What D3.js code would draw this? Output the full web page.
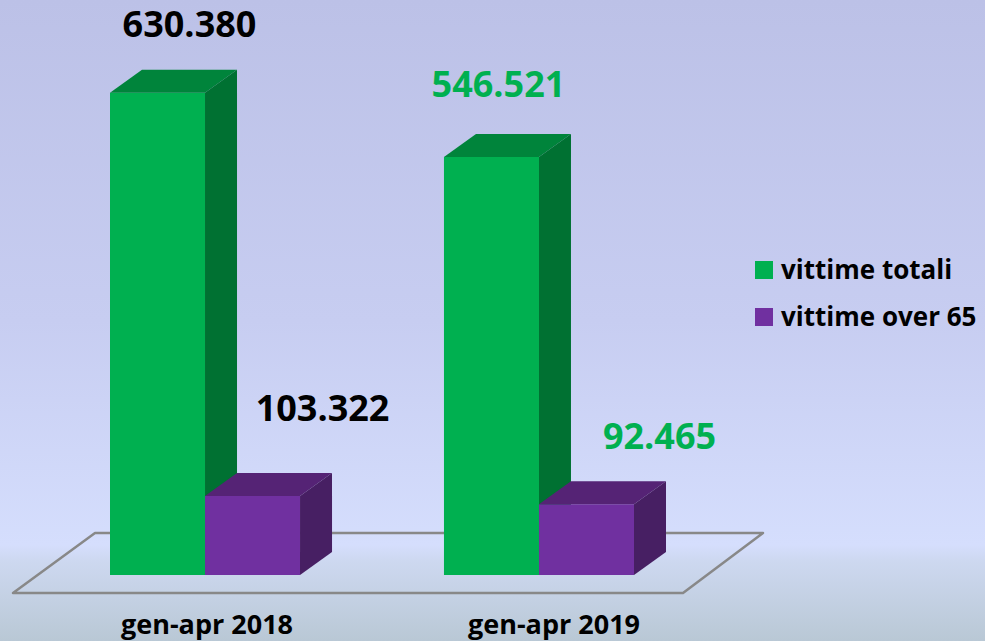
<!DOCTYPE html>
<html>
<head>
<meta charset="utf-8">
<script src="https://cdn.jsdelivr.net/npm/d3@7"></script>
<style>
  html, body { margin: 0; padding: 0; overflow: hidden; }
  text { font-family: "Open Sans", sans-serif; font-weight: bold; }
</style>
</head>
<body>
<svg id="chart" width="985" height="641"></svg>
<script>
// data
var categories = ["gen-apr 2018", "gen-apr 2019"];
var series = ["vittime totali", "vittime over 65"];
var totali = [630380, 546521];
var over65 = [103322, 92465];
var valueLabels = [["630.380", "103.322"], ["546.521", "92.465"]];
var labelColors = [["#000000", "#000000"], ["#00b050", "#00b050"]];

// style bits
var faceColors = {
    "vittime totali": { front: "#00b050", top: "#00843b", side: "#007132" },
    "vittime over 65": { front: "#7030a0", top: "#552375", side: "#471f63" }
};
var labelDx = [[32, 70], [7, 73]];
var labelDy = [[-33, -52], [-37, -32]];
var catDx = [2, 15];
var depthX = 32, depthY = -23;

var svg = d3.select("svg"),
    width = 985,
    height = 641;

// background
var defs = svg.append("defs");
var grad = defs.append("linearGradient")
    .attr("id", "bg")
    .attr("x1", 0).attr("y1", 0).attr("x2", 0).attr("y2", 1);
grad.append("stop").attr("offset", 0).attr("stop-color", "#bcc1e7");
grad.append("stop").attr("offset", 0.5).attr("stop-color", "#c7cdf1");
grad.append("stop").attr("offset", 0.85).attr("stop-color", "#d5defd");
grad.append("stop").attr("offset", 0.875).attr("stop-color", "#cdd8f0");
grad.append("stop").attr("offset", 1).attr("stop-color", "#b9c8d5");
svg.append("rect").attr("width", width).attr("height", height).attr("fill", "url(#bg)");

var x = d3.scaleBand()
    .domain(categories)
    .range([110, 110 + 334 + 190])
    .paddingInner(0.431)
    .paddingOuter(0);

var xs = d3.scaleBand()
    .domain(series)
    .range([0, x.bandwidth()]);

var y = d3.scaleLinear()
    .domain([0, 600000])
    .range([575, 116]);

// floor
var floorBack = 533, floorFront = 593;
svg.append("polygon")
    .attr("points", [[95, floorBack], [763, floorBack], [683, floorFront], [13, floorFront]].join(" "))
    .attr("fill", "none")
    .attr("stroke", "#888888")
    .attr("stroke-width", 2.5)
    .attr("stroke-linejoin", "round");

// bars
var bars = [];
categories.forEach(function(c, i) {
    bars.push({ cat: c, ser: series[0], value: totali[i], ci: i, si: 0 });
    bars.push({ cat: c, ser: series[1], value: over65[i], ci: i, si: 1 });
});

var g = svg.append("g").attr("class", "bars");
bars.forEach(function(d) {
    var x0 = x(d.cat) + xs(d.ser),
        x1 = x0 + xs.bandwidth(),
        y0 = y(0),
        y1 = y(d.value),
        col = faceColors[d.ser];
    var bar = g.append("g");
    bar.append("rect")
        .attr("x", x0).attr("y", y1)
        .attr("width", x1 - x0).attr("height", y0 - y1)
        .attr("fill", col.front);
    bar.append("polygon")
        .attr("points", [[x0, y1], [x0 + depthX, y1 + depthY], [x1 + depthX, y1 + depthY], [x1, y1]].join(" "))
        .attr("fill", col.top);
    bar.append("polygon")
        .attr("points", [[x1, y1], [x1 + depthX, y1 + depthY], [x1 + depthX, y0 + depthY], [x1, y0]].join(" "))
        .attr("fill", col.side);
});

// value labels
bars.forEach(function(d) {
    svg.append("text")
        .attr("x", x(d.cat) + xs(d.ser) + xs.bandwidth() / 2 + labelDx[d.ci][d.si])
        .attr("y", y(d.value) + depthY + labelDy[d.ci][d.si])
        .attr("text-anchor", "middle")
        .attr("font-size", 36)
        .attr("fill", labelColors[d.ci][d.si])
        .text(valueLabels[d.ci][d.si]);
});

// category labels
categories.forEach(function(c, i) {
    svg.append("text")
        .attr("x", x(c) + x.bandwidth() / 2 + catDx[i])
        .attr("y", 634)
        .attr("text-anchor", "middle")
        .attr("font-size", 27)
        .attr("fill", "#000")
        .text(c);
});

// legend
var legend = svg.append("g").attr("transform", "translate(755,261)");
series.forEach(function(s, i) {
    var row = legend.append("g").attr("transform", "translate(0," + (i * 47) + ")");
    row.append("rect")
        .attr("width", 18).attr("height", 18)
        .attr("fill", faceColors[s].front);
    row.append("text")
        .attr("x", 26).attr("y", 18)
        .attr("font-size", 26)
        .attr("fill", "#000")
        .text(s);
});
</script>
</body>
</html>
